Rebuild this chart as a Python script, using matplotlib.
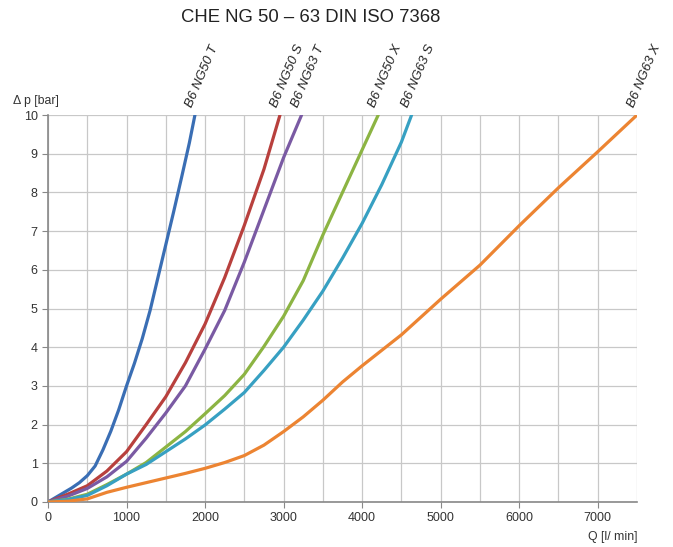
import matplotlib
matplotlib.use("Agg")
from matplotlib import pyplot as plt
from matplotlib.ticker import MultipleLocator

plt.rcParams['font.family'] = ['Liberation Sans', 'DejaVu Sans']

# flow Q [l/min] and pressure drop [bar]
q_ng50_t = [0, 100, 200, 300, 400, 500, 600, 700, 800, 900, 1000, 1100, 1200, 1300,
            1400, 1500, 1600, 1700, 1800, 1871]
p_ng50_t = [0, 0.12, 0.24, 0.36, 0.5, 0.68, 0.93, 1.35, 1.83, 2.38, 3.0, 3.58, 4.22, 4.95,
            5.8, 6.65, 7.5, 8.38, 9.28, 10]

q_ng50_s = [0, 250, 500, 750, 1000, 1250, 1500, 1750, 2000, 2250, 2500, 2750, 2954]
p_ng50_s = [0, 0.2, 0.42, 0.8, 1.3, 2.0, 2.72, 3.6, 4.6, 5.8, 7.15, 8.6, 10]

q_ng63_t = [0, 250, 500, 750, 1000, 1250, 1500, 1750, 2000, 2250, 2500, 2750, 3000, 3229]
p_ng63_t = [0, 0.15, 0.35, 0.65, 1.05, 1.65, 2.3, 3.0, 3.95, 4.95, 6.2, 7.55, 8.9, 10]

q_ng50_x = [0, 250, 500, 750, 1000, 1250, 1500, 1750, 2000, 2250, 2500, 2750, 3000,
            3250, 3500, 3750, 4000, 4205]
p_ng50_x = [0, 0.07, 0.2, 0.45, 0.72, 1.02, 1.42, 1.82, 2.28, 2.75, 3.3, 4.02, 4.8,
            5.72, 6.9, 8.0, 9.1, 10]

q_ng63_s = [0, 250, 500, 750, 1000, 1250, 1500, 1750, 2000, 2250, 2500, 2750, 3000,
            3250, 3500, 3750, 4000, 4250, 4500, 4630]
p_ng63_s = [0, 0.06, 0.17, 0.42, 0.72, 0.97, 1.3, 1.63, 1.99, 2.4, 2.83, 3.4, 4.0,
            4.7, 5.45, 6.3, 7.2, 8.2, 9.3, 10]

q_ng63_x = [0, 250, 500, 750, 1000, 1250, 1500, 1750, 2000, 2250, 2500, 2750, 3000,
            3250, 3500, 3750, 4000, 4250, 4500, 4750, 5000, 5500, 6000, 6500, 7000, 7500]
p_ng63_x = [0, 0.02, 0.08, 0.25, 0.38, 0.5, 0.62, 0.74, 0.87, 1.02, 1.2, 1.47, 1.82,
            2.2, 2.63, 3.1, 3.52, 3.92, 4.32, 4.78, 5.24, 6.12, 7.14, 8.12, 9.05, 10]

series = [
    ('B6 NG50 T', q_ng50_t, p_ng50_t, '#3a6eb4'),
    ('B6 NG50 S', q_ng50_s, p_ng50_s, '#b8403d'),
    ('B6 NG63 T', q_ng63_t, p_ng63_t, '#7a5aa3'),
    ('B6 NG50 X', q_ng50_x, p_ng50_x, '#8cb443'),
    ('B6 NG63 S', q_ng63_s, p_ng63_s, '#37a0c2'),
    ('B6 NG63 X', q_ng63_x, p_ng63_x, '#ec8432'),
]

fig = plt.figure(figsize=(6.73, 5.47), dpi=100)
ax = fig.add_axes([48 / 673, 45 / 547, 589 / 673, 387 / 547])

for name, q, p, color in series:
    ax.plot(q, p, color=color, lw=2.3, solid_capstyle='round',
            solid_joinstyle='round', zorder=3)
    ax.text(q[-1] - 5, 10.15, name, rotation=67, rotation_mode='anchor',
            ha='left', va='bottom', fontsize=9.5, style='italic', color='#222222',
            clip_on=False)

ax.set_xlim(0, 7500)
ax.set_ylim(0, 10)
ax.xaxis.set_major_locator(MultipleLocator(1000))
ax.xaxis.set_minor_locator(MultipleLocator(500))
ax.yaxis.set_major_locator(MultipleLocator(1))
ax.grid(True, which='both', color='#c8c8c8', lw=0.9)
ax.set_axisbelow(True)

for side in ['top', 'right']:
    ax.spines[side].set_visible(False)
for side in ['left', 'bottom']:
    ax.spines[side].set_color('#888888')
    ax.spines[side].set_linewidth(1.2)
ax.tick_params(which='major', direction='out', length=4, color='#888888',
               labelsize=9, labelcolor='#333333')
ax.tick_params(which='minor', length=0)

fig.text(311 / 673, 1 - 18 / 547, 'CHE NG 50 – 63 DIN ISO 7368', ha='center',
         va='center', fontsize=13.3, color='#222222')
fig.text(13 / 673, 1 - 101 / 547, 'Δ p [bar]', ha='left', va='center',
         fontsize=8.8, color='#333333')
fig.text(637 / 673, 1 - 537 / 547, 'Q [l/ min]', ha='right', va='center',
         fontsize=8.8, color='#333333')

fig.savefig('out.png', dpi=100)
